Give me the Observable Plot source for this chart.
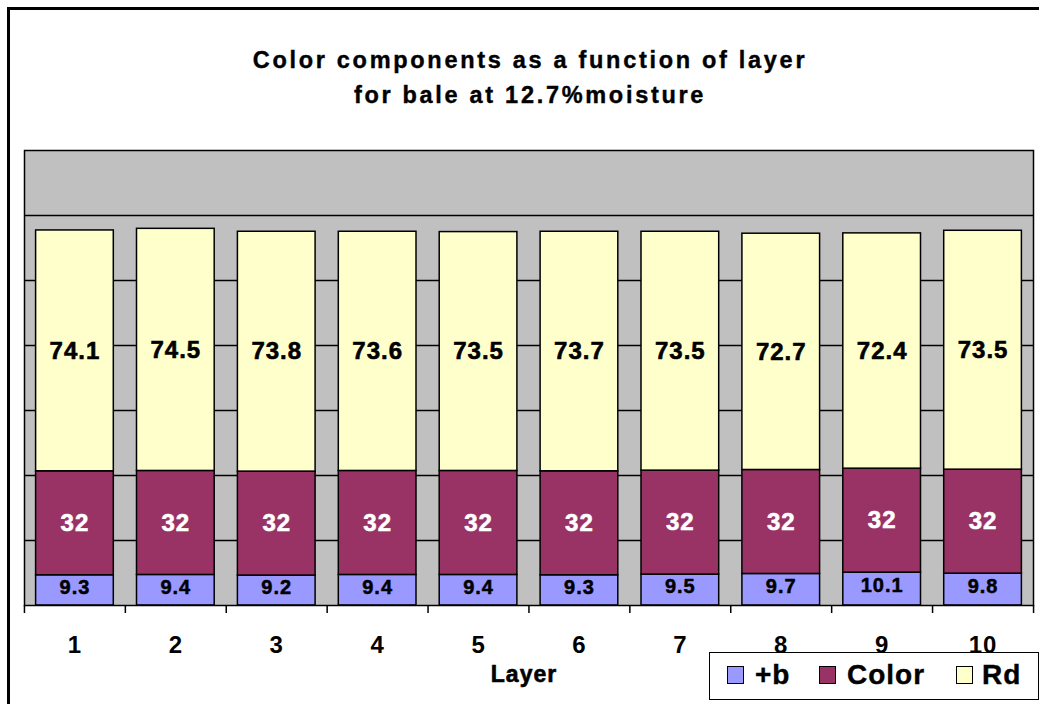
<!DOCTYPE html>
<html>
<head>
<meta charset="utf-8">
<script src="https://cdn.jsdelivr.net/npm/d3@7"></script>
<script src="https://cdn.jsdelivr.net/npm/@observablehq/plot@0.6"></script>
<style>
  html, body { margin: 0; padding: 0; background: #fff; }
  body { font-family: "Liberation Sans", Arial, sans-serif; }
  #wrap { position: relative; width: 1039px; height: 704px; overflow: hidden; }
  #border { position: absolute; left: 7px; top: 7px; width: 1100px; height: 800px;
            border-left: 3px solid #000; border-top: 3px solid #000; pointer-events: none; }
  #title { position: absolute; left: 0; top: 0; width: 1060px; height: 120px; box-sizing: border-box;
           padding-top: 43px; text-align: center; font-weight: bold; font-size: 23.5px;
           line-height: 35px; letter-spacing: 2.7px; color: #000; -webkit-text-stroke: 0.4px #000; }
  #chart { position: absolute; left: 0; top: 120px; }
  #chart svg text { letter-spacing: 1px; }
  #legend { position: absolute; left: 709px; top: 652px; width: 330px; height: 48px;
            box-sizing: border-box; border: 1.5px solid #000; background: #fff; }
  .sw { position: absolute; top: 13px; width: 17px; height: 18px; box-sizing: border-box; border: 1.5px solid #000; }
  .lt { position: absolute; top: 6px; font-weight: bold; font-size: 28px; line-height: 32px; letter-spacing: 1px;
        -webkit-text-stroke: 0.4px #000; }
</style>
</head>
<body>
<div id="wrap">
  <div id="title">Color components as a function of layer<br>for bale at 12.7%moisture</div>
  <div id="chart"></div>
  <div id="legend"></div>
  <div id="border"></div>
</div>
<script>
const layers = ["1", "2", "3", "4", "5", "6", "7", "8", "9", "10"];
const bValues = [9.3, 9.4, 9.2, 9.4, 9.4, 9.3, 9.5, 9.7, 10.1, 9.8];
const colorValues = [32, 32, 32, 32, 32, 32, 32, 32, 32, 32];
const rdValues = [74.1, 74.5, 73.8, 73.6, 73.5, 73.7, 73.5, 72.7, 72.4, 73.5];
const seriesNames = ["+b", "Color", "Rd"];
const seriesColors = ["#9999FF", "#993366", "#FFFFCC"];
const gridValues = [20, 40, 60, 80, 100, 120];
const xLabel = "Layer";

const seriesValues = [bValues, colorValues, rdValues];
const data = [];
layers.forEach((layer, i) => {
  seriesNames.forEach((s, j) => data.push({layer, series: s, value: seriesValues[j][i]}));
});

const font = "'Liberation Sans', Arial, sans-serif";
const labelFor = (name) => (d) => d.series === name ? String(d.value) : null;

const chart = Plot.plot({
  width: 1039,
  height: 584,
  marginTop: 30,
  marginBottom: 99,
  marginLeft: 24,
  marginRight: 6,
  style: {fontFamily: font, background: "transparent", overflow: "visible"},
  x: {domain: layers, paddingInner: 0.23, paddingOuter: 0.115, round: false, axis: null},
  y: {domain: [0, 140], axis: null},
  color: {domain: seriesNames, range: seriesColors},
  marks: [
    Plot.frame({fill: "#C0C0C0"}),
    Plot.ruleY(gridValues, {stroke: "#000", strokeWidth: 1.5}),
    Plot.barY(data, {x: "layer", y: "value", z: "series", fill: "series", stroke: "#000", strokeWidth: 1.5, inset: 0}),
    Plot.frame({stroke: "#000", strokeWidth: 1.5}),
    Plot.axisX({tickSize: 0, tickPadding: 30, fontSize: 24, fontWeight: "bold", label: null, fill: "#000", stroke: "#000", strokeWidth: 0.6}),
    Plot.axisX({tickSize: 8, text: null, dx: -50.5, label: null, stroke: "#000", strokeWidth: 1.5}),
    Plot.axisX(["10"], {tickSize: 8, text: null, dx: 50.5, label: null, stroke: "#000", strokeWidth: 1.5}),
    Plot.text([xLabel], {frameAnchor: "bottom", dy: 60, dx: -5, lineAnchor: "top", fontSize: 23, fontWeight: "bold", fill: "#000", stroke: "#000", strokeWidth: 0.6}),
    Plot.text(data, Plot.stackY({x: "layer", y: "value", z: "series", text: labelFor("Rd"), fontSize: 24, fontWeight: "bold", fill: "#000", stroke: "#000", strokeWidth: 0.6})),
    Plot.text(data, Plot.stackY({x: "layer", y: "value", z: "series", text: labelFor("Color"), fontSize: 24, fontWeight: "bold", fill: "#fff", stroke: "#fff", strokeWidth: 0.6})),
    Plot.text(data, Plot.stackY({x: "layer", y: "value", z: "series", text: labelFor("+b"), fontSize: 20, fontWeight: "bold", fill: "#000", stroke: "#000", strokeWidth: 0.5, dy: -3}))
  ]
});
document.getElementById("chart").appendChild(chart);

// Legend
const legend = document.getElementById("legend");
const swatchX = [17, 109, 246];
const textX = [45, 137, 272];
seriesNames.forEach((name, i) => {
  const sw = document.createElement("div");
  sw.className = "sw";
  sw.style.left = swatchX[i] + "px";
  sw.style.background = seriesColors[i];
  legend.appendChild(sw);
  const t = document.createElement("div");
  t.className = "lt";
  t.style.left = textX[i] + "px";
  t.textContent = name;
  legend.appendChild(t);
});
</script>
</body>
</html>
